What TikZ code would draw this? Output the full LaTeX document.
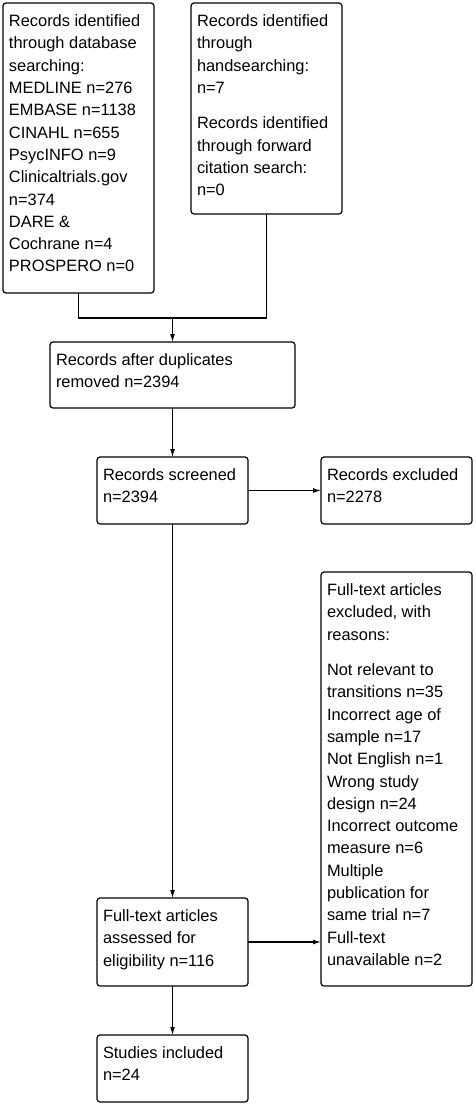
\documentclass[tikz,border=0pt]{standalone}
\usepackage{fontspec}
\setmainfont{Liberation Sans}
\usetikzlibrary{arrows.meta}

\tikzset{
  box/.style={draw, line width=1.2pt, rounded corners=3pt, anchor=north west,
    inner xsep=6pt, inner ysep=8pt, outer sep=0pt,
    font=\fontsize{16.4}{22.3}\selectfont},
  link/.style={line width=1.2pt},
  arrow/.style={line width=1.2pt, -{Latex[length=8pt,width=5pt]}}
}
\newcommand{\boxtext}[3]{\parbox[t][#2][t]{#1}{\raggedright\strut #3}}

\begin{document}
\begin{tikzpicture}[x=1pt,y=-1pt]
\useasboundingbox (0,0) rectangle (475,1105);

\node[box] at (3,3) (dbs) {\boxtext{139pt}{274pt}{Records identified\\ through database\\ searching:\\ MEDLINE n=276\\ EMBASE n=1138\\ CINAHL n=655\\ PsycINFO n=9\\ Clinicaltrials.gov\\ n=374\\ DARE \&\\ Cochrane n=4\\ PROSPERO n=0}};
\node[box] at (191,3) (hand) {\boxtext{139pt}{195pt}{Records identified\\ through\\ handsearching:\\ n=7\\[13pt] Records identified\\ through forward\\ citation search:\\ n=0}};

\node[box] at (50,342) (dup) {\boxtext{233pt}{50pt}{Records after duplicates\\ removed n=2394}};
\node[box] at (97,457) (screen) {\boxtext{139pt}{51pt}{Records screened\\ n=2394}};
\node[box] at (321,457) (excl) {\boxtext{139pt}{51pt}{Records excluded\\ n=2278}};
\node[box] at (321,572) (reasons) {\boxtext{139pt}{398pt}{Full-text articles\\ excluded, with\\ reasons:\\[13pt] Not relevant to\\ transitions n=35\\ Incorrect age of\\ sample n=17\\ Not English n=1\\ Wrong study\\ design n=24\\ Incorrect outcome\\ measure n=6\\ Multiple\\ publication for\\ same trial n=7\\ Full-text\\ unavailable n=2}};
\node[box] at (97,898) (full) {\boxtext{139pt}{72pt}{Full-text articles\\ assessed for\\ eligibility n=116}};
\node[box] at (97,1035) (incl) {\boxtext{139pt}{51pt}{Studies included\\ n=24}};

% merge the two searches
\coordinate (join) at (172.5,318);
\draw[link] (dbs.south) |- (join);
\draw[link] (hand.south) |- (join);
\draw[arrow] (join) -- (dup.north);

\draw[arrow] (dup.south) -- (screen.north);
\draw[arrow] (screen.east) -- (excl.west);
\draw[arrow] (screen.south) -- (full.north);
\draw[arrow] (full.east) -- (full.east -| reasons.west);
\draw[arrow] (full.south) -- (incl.north);
\end{tikzpicture}
\end{document}
